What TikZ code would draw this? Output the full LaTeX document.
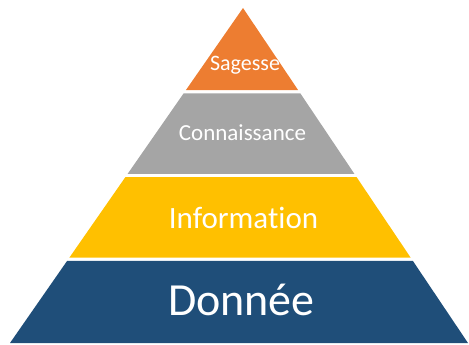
\documentclass[tikz,border=0pt]{standalone}
\usepackage{fontspec}
\setmainfont{Carlito}[Ligatures=NoCommon]
\usetikzlibrary{calc}
\definecolor{sagesse}{HTML}{ED7D31}
\definecolor{connaissance}{HTML}{A5A5A5}
\definecolor{information}{HTML}{FFC000}
\definecolor{donnee}{HTML}{1F4E79}
\begin{document}
\begin{tikzpicture}[x=1pt,y=-1pt,
    layertext/.style={text=white, inner sep=0pt, anchor=base}]
            \useasboundingbox (0,0) rectangle (469,345);
            \coordinate (top) at (243,8);
            \coordinate (bl) at (10,343);
            \coordinate (br) at (468,343);

            \fill[sagesse] (top) -- ($(top)!0.2448!(bl)$) -- ($(top)!0.2448!(br)$) -- cycle;
            \fill[connaissance] ($(top)!0.2552!(bl)$) -- ($(top)!0.4948!(bl)$) -- ($(top)!0.4948!(br)$) -- ($(top)!0.2552!(br)$) -- cycle;
            \fill[information] ($(top)!0.5052!(bl)$) -- ($(top)!0.7448!(bl)$) -- ($(top)!0.7448!(br)$) -- ($(top)!0.5052!(br)$) -- cycle;
            \fill[donnee] ($(top)!0.7552!(bl)$) -- (bl) -- (br) -- ($(top)!0.7552!(br)$) -- cycle;

            \node[layertext, font=\fontsize{22}{22}\selectfont] (sag) at (245,71) {Sagesse};
            \node[layertext, font=\fontsize{23}{23}\selectfont] (con) at (242.5,140) {Connaissance};
            \node[layertext, font=\fontsize{31}{31}\selectfont] (inf) at (243.5,228) {Information};
            \node[layertext, font=\fontsize{46}{46}\selectfont] (don) at (241.5,315) {Donnée};
        \end{tikzpicture}
\end{document}
